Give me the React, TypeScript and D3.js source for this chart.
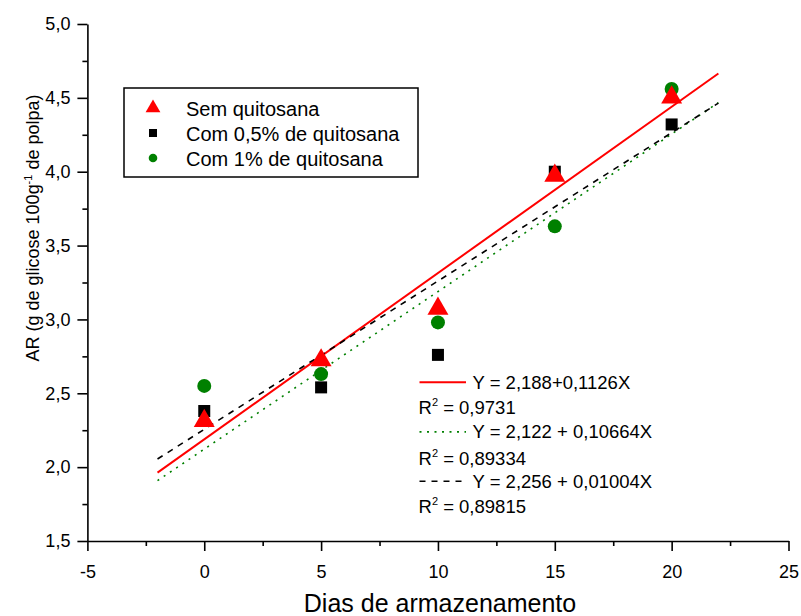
import React, { useEffect, useRef } from 'react';
import * as d3 from 'd3';

// storage days and measured AR values for each treatment
const days = [0, 5, 10, 15, 20];
const semQuitosana = [2.32, 2.73, 3.08, 3.98, 4.51];
const com05Quitosana = [2.38, 2.54, 2.76, 4.0, 4.32];
const com1Quitosana = [2.55, 2.63, 2.98, 3.63, 4.56];

const legendLabels = ['Sem quitosana', 'Com 0,5% de quitosana', 'Com 1% de quitosana'];

const xTicks = [-5, 0, 5, 10, 15, 20, 25];
const xMinorTicks = [-2.5, 2.5, 7.5, 12.5, 17.5, 22.5];
const yTicks = [1.5, 2.0, 2.5, 3.0, 3.5, 4.0, 4.5, 5.0];
const yMinorTicks = [1.75, 2.25, 2.75, 3.25, 3.75, 4.25, 4.75];

// fitted lines: red, green, black
const fitIntercepts = [2.188, 2.122, 2.256];
const fitSlopes = [0.1126, 0.10664, 0.1004];
const fitRange = [-2, 22];
const fitEquations = ['Y = 2,188+0,1126X', 'Y = 2,122 + 0,10664X', 'Y = 2,256 + 0,01004X'];
const fitR2 = ['0,9731', '0,89334', '0,89815'];

const W = 801;
const H = 616;
const FONT = 'Arial, "Liberation Sans", sans-serif';

export default function App() {
  const ref = useRef<SVGSVGElement>(null);

  useEffect(() => {
    const svg = d3.select(ref.current);
    svg.selectAll('*').remove();

    const x = d3.scaleLinear().domain([-5, 25]).range([87.4, 788.5]);
    const y = d3.scaleLinear().domain([1.5, 5]).range([541, 24]);
    const comma = (d: number) => d3.format('.1f')(d).replace('.', ',');

    // axes
    const gx = svg.append('g').attr('transform', `translate(0,${y(1.5)})`);
    gx.call(d3.axisBottom(x).tickValues(xTicks).tickSize(10).tickSizeOuter(0).tickPadding(14).tickFormat((d: any) => String(d)));
    gx.append('g').call(d3.axisBottom(x).tickValues(xMinorTicks).tickSize(5).tickSizeOuter(0).tickFormat(() => ''))
      .select('.domain').remove();

    const gy = svg.append('g').attr('transform', `translate(${x(-5)},0)`);
    gy.call(d3.axisLeft(y).tickValues(yTicks).tickSize(10).tickSizeOuter(0).tickPadding(7).tickFormat((d: any) => comma(d)));
    gy.append('g').call(d3.axisLeft(y).tickValues(yMinorTicks).tickSize(5).tickSizeOuter(0).tickFormat(() => ''))
      .select('.domain').remove();

    svg.selectAll('.domain, .tick line').attr('stroke', '#000').attr('stroke-width', 1.6);
    svg.selectAll('.tick text').attr('font-family', FONT).attr('font-size', 18).attr('fill', '#000');

    // axis titles
    svg.append('text')
      .attr('x', 440).attr('y', 612)
      .attr('text-anchor', 'middle')
      .attr('font-family', FONT).attr('font-size', 25)
      .text('Dias de armazenamento');

    const yt = svg.append('text')
      .attr('transform', 'translate(39,228) rotate(-90)')
      .attr('text-anchor', 'middle')
      .attr('font-family', FONT).attr('font-size', 18);
    yt.append('tspan').text('AR (g de glicose 100g');
    yt.append('tspan').attr('font-size', 11).attr('dy', -7).text('-1');
    yt.append('tspan').attr('dy', 7).text(' de polpa)');

    // regression lines
    const fitColors = ['#ff0000', '#008000', '#000'];
    const fitDash = [null, '2,5.5', '6,6'];
    fitIntercepts.forEach((a, i) => {
      const line = d3.line<number>().x(d => x(d)).y(d => y(a + fitSlopes[i] * d));
      svg.append('path')
        .attr('d', line(fitRange))
        .attr('fill', 'none')
        .attr('stroke', fitColors[i])
        .attr('stroke-width', i === 0 ? 2 : 1.6)
        .attr('stroke-dasharray', fitDash[i]);
    });

    // markers
    const tri = d3.symbol().type(d3.symbolTriangle);
    const markers = svg.append('g');
    markers.selectAll('circle').data(days).enter().append('circle')
      .attr('cx', d => x(d)).attr('cy', (d, i) => y(com1Quitosana[i]))
      .attr('r', 7).attr('fill', '#008000');
    markers.selectAll('rect').data(days).enter().append('rect')
      .attr('x', d => x(d) - 6).attr('y', (d, i) => y(com05Quitosana[i]) - 6)
      .attr('width', 12).attr('height', 12).attr('fill', '#000');
    markers.selectAll('path').data(days).enter().append('path')
      .attr('d', tri.size(190)())
      .attr('transform', (d, i) => `translate(${x(d)},${y(semQuitosana[i]) + 1})`)
      .attr('fill', '#ff0000');

    // legend
    const lg = svg.append('g');
    lg.append('rect').attr('x', 124).attr('y', 88).attr('width', 294).attr('height', 89)
      .attr('fill', 'none').attr('stroke', '#000').attr('stroke-width', 1.5);
    const rows = [108, 133, 158];
    lg.append('path').attr('d', tri.size(95)()).attr('transform', `translate(153,${rows[0]})`).attr('fill', '#ff0000');
    lg.append('rect').attr('x', 149).attr('y', rows[1] - 4).attr('width', 8).attr('height', 8).attr('fill', '#000');
    lg.append('circle').attr('cx', 153).attr('cy', rows[2]).attr('r', 4.3).attr('fill', '#008000');
    legendLabels.forEach((t, i) => {
      lg.append('text').attr('x', 186).attr('y', rows[i] + 8)
        .attr('font-family', FONT).attr('font-size', 20).text(t);
    });

    // equations
    const eq = svg.append('g').attr('font-family', FONT).attr('font-size', 18.5);
    const eqBase = [388.7, 438.4, 487.7];
    const r2Base = [414, 464.7, 512.7];
    fitEquations.forEach((t, i) => {
      eq.append('line')
        .attr('x1', 419.5).attr('x2', 466).attr('y1', eqBase[i] - 6.5).attr('y2', eqBase[i] - 6.5)
        .attr('stroke', fitColors[i]).attr('stroke-width', i === 0 ? 2 : 1.6)
        .attr('stroke-dasharray', fitDash[i]);
      eq.append('text').attr('x', 472.5).attr('y', eqBase[i]).text(t);
      const r = eq.append('text').attr('x', 418.5).attr('y', r2Base[i]);
      r.append('tspan').text('R');
      r.append('tspan').attr('font-size', 11).attr('dy', -8).text('2');
      r.append('tspan').attr('dy', 8).text(' = ' + fitR2[i]);
    });
  }, []);

  return (
    <svg
      ref={ref}
      width={W}
      height={H}
      style={{ position: 'absolute', left: 0, top: 0, background: '#fff' }}
    />
  );
}
